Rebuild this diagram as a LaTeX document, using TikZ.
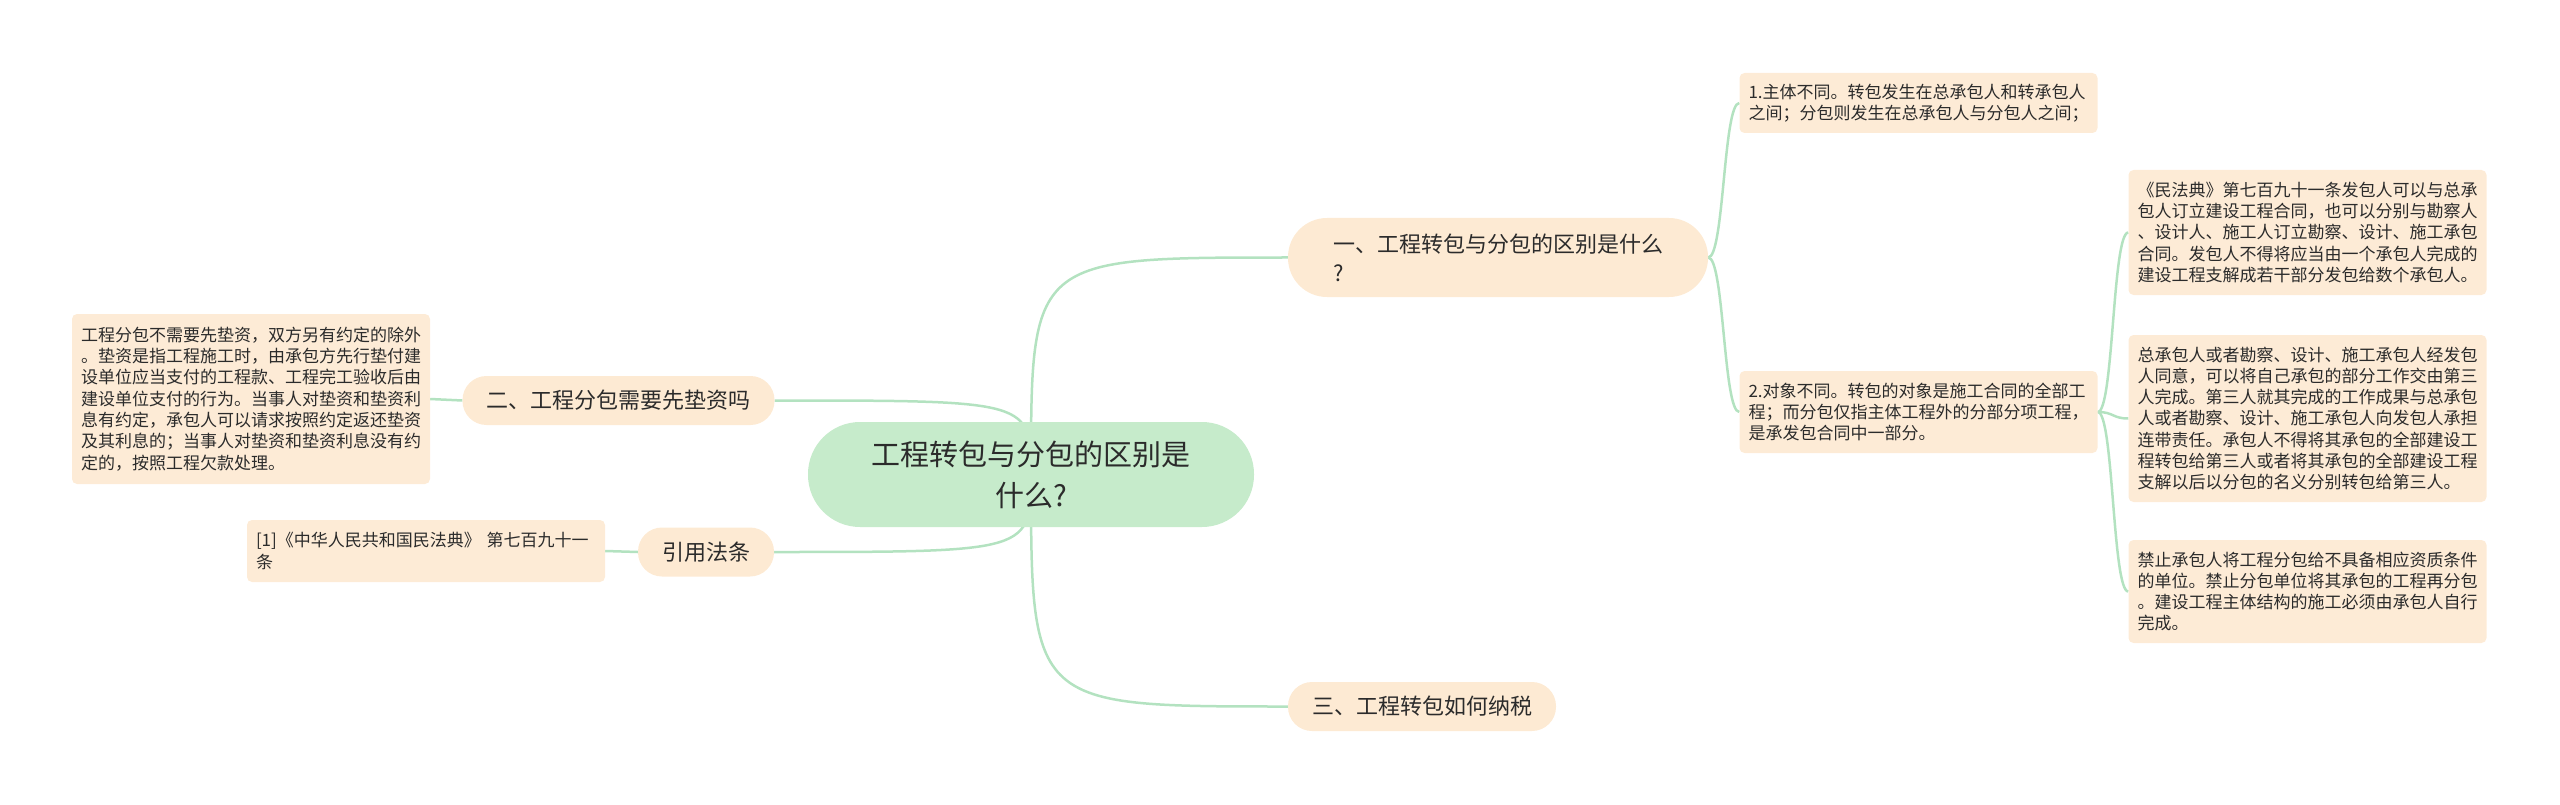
\documentclass[tikz,border=0pt]{standalone}
\usepackage{fontspec}
\setmainfont{Noto Sans CJK SC}
\usepackage{tikz}
\usetikzlibrary{positioning, backgrounds}

\definecolor{rootgreen}{HTML}{C6EBCB}
\definecolor{peach}{HTML}{FDEAD3}
\definecolor{leafpeach}{HTML}{FDEBD6}
\definecolor{linkgreen}{HTML}{B3E2C0}
\definecolor{ink}{HTML}{2B2B2B}

\begin{document}
\begin{tikzpicture}[
  x=1pt, y=-1pt,
  text=ink,
  root/.style={rectangle, rounded corners=52pt, fill=rootgreen, minimum width=446pt, minimum height=105pt, align=center, font=\fontsize{29}{41}\selectfont},
  topic/.style={rectangle, rounded corners=24pt, fill=peach, minimum height=49pt, inner xsep=24pt, font=\fontsize{22}{29}\selectfont},
  leaf/.style={rectangle, rounded corners=5pt, fill=leafpeach, text width=340pt, align=left, inner xsep=9pt, inner ysep=4pt, font=\fontsize{17}{21.3}\selectfont},
  link/.style={draw=linkgreen, line width=2.5pt},
]
\useasboundingbox (0,0) rectangle (2560,805);

\node[root] (root) at (1031,474.5) {工程转包与分包的区别是\\什么?};
\node[topic, align=left, minimum width=420pt, minimum height=79pt, rounded corners=39pt] (one) at (1498,257.5) {一、工程转包与分包的区别是什么\\?};
\node[topic] (two) at (618.5,400.5) {二、工程分包需要先垫资吗};
\node[topic] (law) at (706,552) {引用法条};
\node[topic] (three) at (1422,706.5) {三、工程转包如何纳税};

\node[leaf, minimum height=60pt] (leaf1) at (1918.5,103) {1.主体不同。转包发生在总承包人和转承包人\\之间；分包则发生在总承包人与分包人之间；};
\node[leaf, minimum height=82pt] (leaf2) at (1918.5,412) {2.对象不同。转包的对象是施工合同的全部工\\程；而分包仅指主体工程外的分部分项工程，\\是承发包合同中一部分。};
\node[leaf, minimum height=125pt] (leafa) at (2307.5,232.5) {《民法典》第七百九十一条发包人可以与总承\\包人订立建设工程合同，也可以分别与勘察人\\、设计人、施工人订立勘察、设计、施工承包\\合同。发包人不得将应当由一个承包人完成的\\建设工程支解成若干部分发包给数个承包人。};
\node[leaf, minimum height=167pt] (leafb) at (2307.5,418.5) {总承包人或者勘察、设计、施工承包人经发包\\人同意，可以将自己承包的部分工作交由第三\\人完成。第三人就其完成的工作成果与总承包\\人或者勘察、设计、施工承包人向发包人承担\\连带责任。承包人不得将其承包的全部建设工\\程转包给第三人或者将其承包的全部建设工程\\支解以后以分包的名义分别转包给第三人。};
\node[leaf, minimum height=103pt] (leafc) at (2307.5,591.5) {禁止承包人将工程分包给不具备相应资质条件\\的单位。禁止分包单位将其承包的工程再分包\\。建设工程主体结构的施工必须由承包人自行\\完成。};
\node[leaf, minimum height=170pt] (pay) at (251,399) {工程分包不需要先垫资，双方另有约定的除外\\。垫资是指工程施工时，由承包方先行垫付建\\设单位应当支付的工程款、工程完工验收后由\\建设单位支付的行为。当事人对垫资和垫资利\\息有约定，承包人可以请求按照约定返还垫资\\及其利息的；当事人对垫资和垫资利息没有约\\定的，按照工程欠款处理。};
\node[leaf, minimum height=62pt] (ref) at (426,551) {[1]《中华人民共和国民法典》 第七百九十一\\条};

\begin{scope}[on background layer]
\foreach \t/\a in {one/west,two/east,law/east,three/west}
  \draw[link] (root.center) .. controls (root.center |- \t.\a) .. (\t.\a);
\foreach \c in {leaf1,leaf2}
  \draw[link] (one.east) .. controls +(16,0) and +(-16,0) .. (\c.west);
\foreach \c in {leafa,leafb,leafc}
  \draw[link] (leaf2.east) .. controls +(16,0) and +(-16,0) .. (\c.west);
\draw[link] (two.west) .. controls +(-16,0) and +(16,0) .. (pay.east);
\draw[link] (law.west) .. controls +(-16,0) and +(16,0) .. (ref.east);
\end{scope}
\end{tikzpicture}
\end{document}
